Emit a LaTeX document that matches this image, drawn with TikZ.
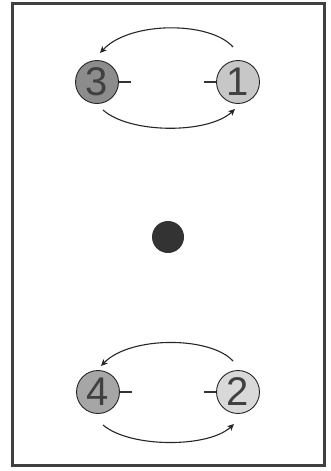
\documentclass[tikz,border=0pt]{standalone}
\usepackage{fontspec}
\setmainfont{Liberation Sans}
\usetikzlibrary{arrows.meta}
\begin{document}
\begin{tikzpicture}[x=1pt,y=-1pt,
  disc/.style={circle,draw=black!85,line width=0.9pt,minimum size=43pt,inner sep=0pt,
    font=\fontsize{40}{40}\selectfont,text=black!75},
  tick/.style={line width=2pt,draw=black!80},
  arc/.style={line width=1.1pt,draw=black!85,-{Stealth[length=6.5pt,width=6pt,inset=1.5pt]}}]
\useasboundingbox (0,0) rectangle (331,471);
\draw[line width=3pt,draw=black!75] (12,3) rectangle (324,465);
\node[disc,fill=black!45] (n3) at (97,82) {3};
\node[disc,fill=black!22] (n1) at (238,82) {1};
\node[disc,fill=black!35] (n4) at (98,392) {4};
\node[disc,fill=black!15] (n2) at (238,392) {2};
\node[circle,fill=black!80,minimum size=32pt,inner sep=0pt] (c) at (168,237) {};
\draw[tick] (n3.east) -- ++(12,0) coordinate (t3);
\draw[tick] (n1.west) -- ++(-12,0) coordinate (t1);
\draw[tick] (n4.east) -- ++(12,0) coordinate (t4);
\draw[tick] (n2.west) -- ++(-12,0) coordinate (t2);
\coordinate (a1s) at (233,47);  \coordinate (a1e) at (100,53);
\coordinate (b1s) at (103,110); \coordinate (b1e) at (235,109);
\coordinate (a2s) at (233,361); \coordinate (a2e) at (101,366);
\coordinate (b2s) at (103,425); \coordinate (b2e) at (234,424);
\draw[arc] (a1s) .. controls (210,21) and (130,21) .. (a1e);
\draw[arc] (b1s) .. controls (130,134) and (208,134) .. (b1e);
\draw[arc] (a2s) .. controls (210,336) and (130,336) .. (a2e);
\draw[arc] (b2s) .. controls (130,448) and (208,448) .. (b2e);
\end{tikzpicture}
\end{document}
